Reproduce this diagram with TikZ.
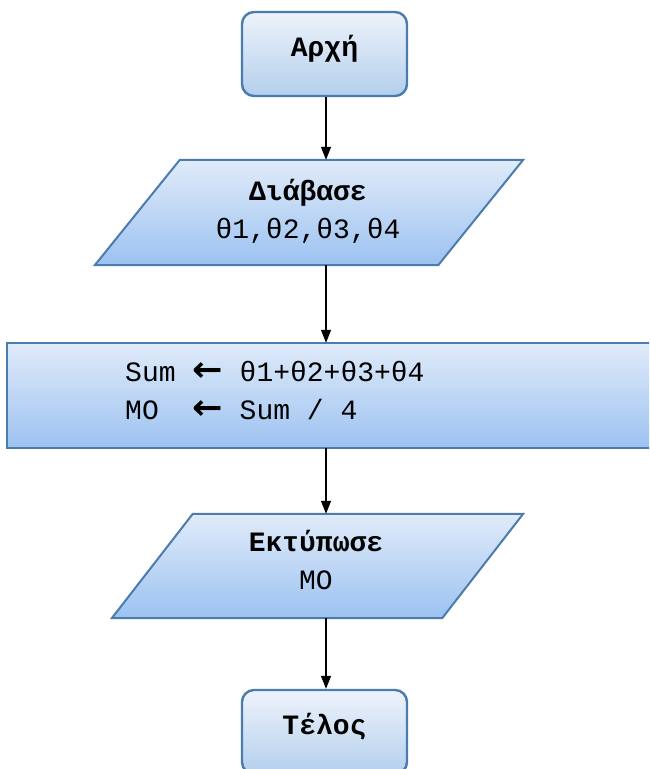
\documentclass[tikz,border=0pt]{standalone}
\usepackage{fontspec}
\setmainfont{Liberation Mono}
\newfontfamily\arrowfont{DejaVu Sans}
\usetikzlibrary{arrows.meta,calc}
\definecolor{edgeblue}{HTML}{4C7BAE}
\definecolor{termtop}{HTML}{EEF3FB}
\definecolor{termbot}{HTML}{B3CFEC}
\definecolor{boxtop}{HTML}{E0EBF9}
\definecolor{boxbot}{HTML}{9CC2F1}
\newcommand{\asgn}{{\arrowfont\bfseries\scalebox{1.3}[1.25]{←}}}
\newcommand{\liftup}[1]{\raisebox{5pt}[\height][\depth]{#1}}
\tikzset{
  term/.style={draw=edgeblue, line width=2.4pt, rounded corners=12pt,
    top color=termtop, bottom color=termbot, minimum width=165pt,
    minimum height=84pt, inner sep=0pt, font=\fontsize{28}{38}\selectfont\bfseries},
  frame/.style={inner sep=0pt, align=center, font=\fontsize{28}{38}\selectfont},
  shapefill/.style={draw=edgeblue, line width=2pt, top color=boxtop, bottom color=boxbot},
  arr/.style={draw=black, line width=1.3pt, -{Triangle[length=13pt,width=10pt]}}
}
\begin{document}
\begin{tikzpicture}[x=1pt,y=-1pt]
\useasboundingbox (0,0) rectangle (649,769);
\clip (0,0) rectangle (649,769);
\fill[white] (0,0) rectangle (649,769);

% start
\node[term] (start) at (324.5,54) {\liftup{Αρχή}};

% read parallelogram
\node[frame, minimum width=428pt, minimum height=105pt] (read) at (309,212.5) {};
\path[shapefill] ($(read.north west)+(85,0)$) -- (read.north east) -- ($(read.south east)+(-85,0)$) -- (read.south west) -- cycle;
\node[frame] (readtext) at (308,211) {\textbf{Διάβασε}\\θ1,θ2,θ3,θ4};

% process
\node[frame, minimum width=653pt, minimum height=105pt] (proc) at (333.5,395.5) {};
\path[shapefill] (proc.north west) rectangle (proc.south east);
\node[frame, anchor=west, align=left] (proctext) at (125,390) {Sum \asgn{} θ1+θ2+θ3+θ4\\MO{ }{ }\asgn{} Sum / 4};

% print parallelogram
\node[frame, minimum width=411pt, minimum height=104pt] (print) at (317.5,566) {};
\path[shapefill] ($(print.north west)+(81,0)$) -- (print.north east) -- ($(print.south east)+(-81,0)$) -- (print.south west) -- cycle;
\node[frame] (printtext) at (316,560) {\textbf{Εκτύπωσε}\\MO};

% end
\node[term] (end) at (324.5,732) {\liftup{Τέλος}};

% connectors
\draw[arr] (start.south -| 326,0) -- (read.north -| 326,0);
\draw[arr] (read.south -| 326,0) -- (proc.north -| 326,0);
\draw[arr] (proc.south -| 326,0) -- (print.north -| 326,0);
\draw[arr] (print.south -| 326,0) -- (end.north -| 326,0);
\end{tikzpicture}
\end{document}
